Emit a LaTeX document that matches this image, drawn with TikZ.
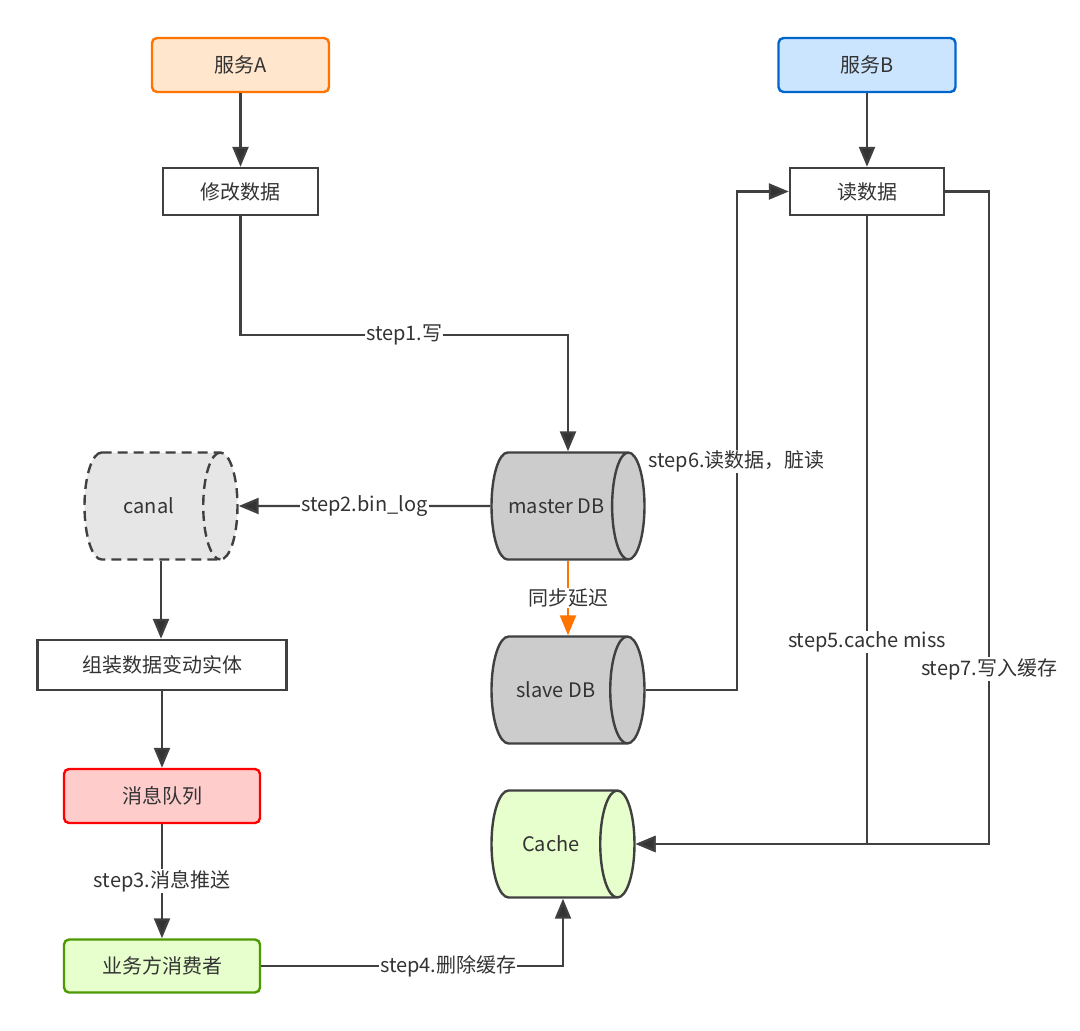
\documentclass[tikz,border=0pt]{standalone}
\usepackage{fontspec}
\setmainfont{Noto Sans CJK SC}
\usepackage{tikz}
\usetikzlibrary{positioning,shapes.geometric,arrows.meta}

\definecolor{ink}{HTML}{333333}
\definecolor{wire}{HTML}{404040}

\begin{document}
\begin{tikzpicture}[x=1pt,y=-1pt,node distance=100pt,on grid,
	font=\fontsize{20}{24}\selectfont,text=ink,
	box/.style={draw=wire,line width=2.4pt,fill=white,minimum width=155pt,minimum height=47pt},
	svc/.style={box,rounded corners=5pt,minimum width=177pt,minimum height=54pt},
	cyl/.style={cylinder,anchor=shape center,draw=wire,line width=2.4pt,shape aspect=1.5,minimum width=107pt,minimum height=153pt},
	flow/.style={draw=wire,line width=2.4pt,-{Triangle[length=20pt,width=16pt,fill=ink]}},
	lbl/.style={fill=white,inner sep=1pt}]
	\useasboundingbox (0,0) rectangle (1080,1031);

	\node[svc,draw=orange!90!red,fill={rgb,255:red,255;green,230;blue,204}] (svcA) at (240.5,65) {服务A};
	\node[box] (modify) [below=126.5pt of svcA] {修改数据};
	\node[svc,draw={rgb,255:red,0;green,102;blue,204},fill={rgb,255:red,204;green,229;blue,255}] (svcB) at (867,65) {服务B};
	\node[box,minimum width=154pt] (read) [below=126.5pt of svcB] {读数据};

	\node[cyl,fill={rgb,255:red,204;green,204;blue,204}] (master) at (568,506) {master DB};
	\node[cyl,fill={rgb,255:red,204;green,204;blue,204}] (slave) at (568,690) {slave DB};
	\node[cyl,fill={rgb,255:red,230;green,255;blue,204},minimum height=143pt] (cache) at (563,844) {Cache};
	\node[cyl,dashed,dash pattern=on 10pt off 6pt,fill={rgb,255:red,230;green,230;blue,230}] (canal) at (161,506) {canal};

	\node[box,minimum width=249pt,minimum height=50pt] (assemble) at (162,665) {组装数据变动实体};
	\node[svc,minimum width=196pt,draw=red,fill={rgb,255:red,255;green,204;blue,204}] (mq) [below=131pt of assemble] {消息队列};
	\node[svc,minimum width=196pt,minimum height=53pt,draw={rgb,255:red,77;green,153;blue,0},fill={rgb,255:red,230;green,255;blue,204}] (consumer) [below=170pt of mq] {业务方消费者};

	% writer side
	\draw[flow] (svcA) -- (modify);
	\draw[flow] (modify.south) -- ++(0,118.5) -| node[lbl,pos=0.25] {step1.写} (master.north -| master.shape center);
	\draw[flow] (master.west) -- node[lbl] {step2.bin\_log} (canal.east);
	\draw[flow] (canal.south -| canal.shape center) -- (assemble.north -| canal.shape center);
	\draw[flow] (assemble) -- (mq);
	\draw[flow] (mq) -- node[lbl] {step3.消息推送} (consumer);
	\draw[flow] (consumer.east) -| node[lbl,pos=0.31] {step4.删除缓存} (cache.south -| cache.shape center);

	% replication
	\draw[flow,draw=orange!90!red,-{Triangle[length=20pt,width=16pt,fill=orange!90!red]}] (master.south -| master.shape center) -- node[lbl] {同步延迟} (slave.north -| slave.shape center);

	% reader side
	\draw[flow] (svcB) -- (read);
	\draw[flow] (slave.east) -- ++(91,0) |- node[lbl,pos=0.229] {step6.读数据，脏读} (read.west);
	\draw[flow] (read.south) |- node[lbl,pos=0.339] {step5.cache miss} (cache.east);
	\draw[flow] (read.east) -- ++(44,0) |- node[lbl,pos=0.366] {step7.写入缓存} (cache.east);

\end{tikzpicture}
\end{document}
